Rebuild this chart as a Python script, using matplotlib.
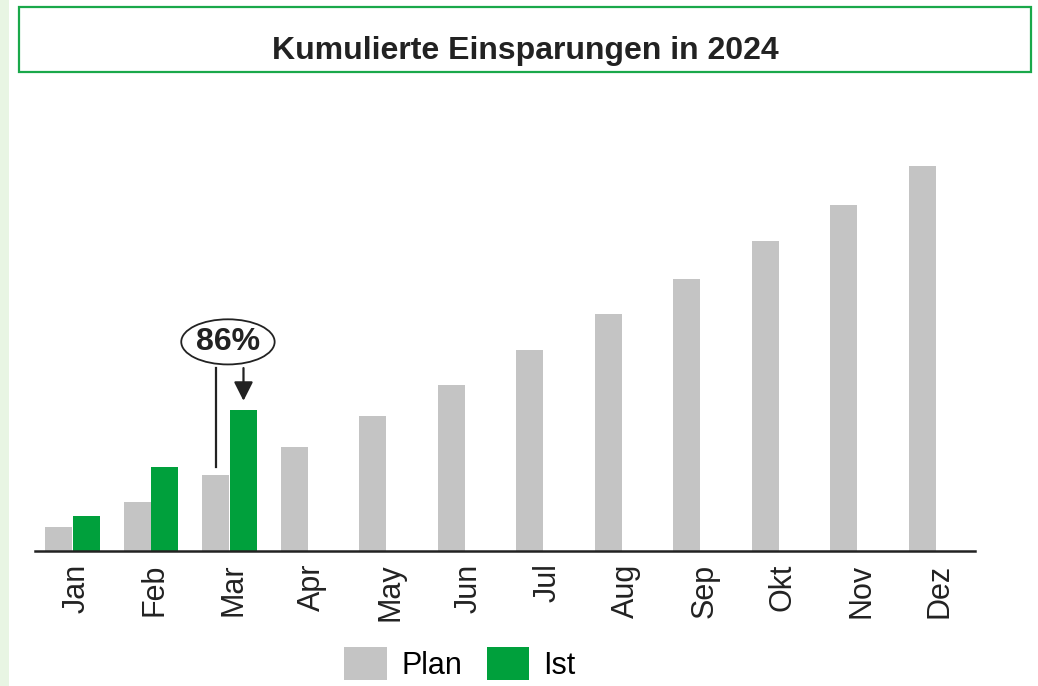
import matplotlib.pyplot as plt
from matplotlib.patches import Rectangle

# data (Dez plan = 100)
months = ['Jan', 'Feb', 'Mar', 'Apr', 'May', 'Jun', 'Jul', 'Aug', 'Sep', 'Okt', 'Nov', 'Dez']
plan = [6.2, 12.7, 19.7, 27.0, 35.1, 43.1, 52.2, 61.6, 70.6, 80.5, 89.9, 100.0]
ist = [9.1, 21.8, 36.6]
pct_label = '86%'

gray = '#c4c4c4'
green = '#00a03c'

plt.rcParams['font.family'] = ['Liberation Sans', 'DejaVu Sans']

fig = plt.figure(figsize=(10.38, 6.86), dpi=100)

# light green strip on the left
fig.patches.append(Rectangle((0, 0), 9 / 1038, 1, transform=fig.transFigure,
                             facecolor='#e8f5e3', edgecolor='none', zorder=0))
# title box
fig.patches.append(Rectangle((19 / 1038, 1 - 72 / 686), 1012 / 1038, 65 / 686,
                             transform=fig.transFigure, facecolor='white',
                             edgecolor='#1aa84a', linewidth=1.6, zorder=1))
fig.text(525 / 1038, 1 - 51 / 686, 'Kumulierte Einsparungen in 2024',
         ha='center', va='center', fontsize=23, fontweight='bold', color='#222222')

ax = fig.add_axes([35 / 1038, 1 - 551 / 686, 940 / 1038, 451 / 686])
w = 0.344
off = 0.178
x = list(range(len(months)))
ax.bar([i - off for i in x], plan, width=w, color=gray, label='Plan')
ax.bar([i + off for i in range(len(ist))], ist, width=w, color=green, label='Ist')

ax.set_xlim(-0.478, 11.497)
ax.set_ylim(0, 117.1)
ax.set_xticks([i + 0.05 for i in x])
ax.set_xticklabels(months, rotation=90, fontsize=22, color='#222222')
ax.tick_params(axis='x', length=0, pad=9)
ax.set_yticks([])
for s in ['top', 'right', 'left']:
    ax.spines[s].set_visible(False)
ax.spines['bottom'].set_linewidth(1.8)
ax.spines['bottom'].set_color('#222222')

# 86% annotation
ax.annotate(pct_label, xy=(2 - 0.02, 54.3), ha='center', va='center',
            fontsize=23, fontweight='bold', color='#222222',
            bbox=dict(boxstyle='ellipse,pad=0.03', facecolor='white',
                      edgecolor='#222222', linewidth=1.3))
ax.plot([2 - off, 2 - off], [plan[2] + 2.0, 47.5], color='#222222', linewidth=1.6)
ax.annotate('', xy=(2 + off, ist[2] + 2.4), xytext=(2 + off, 47.5),
            arrowprops=dict(arrowstyle='-|>,head_width=0.58,head_length=1.15',
                            color='#222222', linewidth=1.6, shrinkA=0, shrinkB=0))

fig.legend(loc='center', bbox_to_anchor=(460 / 1038, 1 - 664 / 686), ncol=2,
           frameon=False, fontsize=22, handlelength=1.4, handleheight=1.25,
           columnspacing=0.8, handletextpad=0.46)

fig.savefig('out.png', dpi=100)
